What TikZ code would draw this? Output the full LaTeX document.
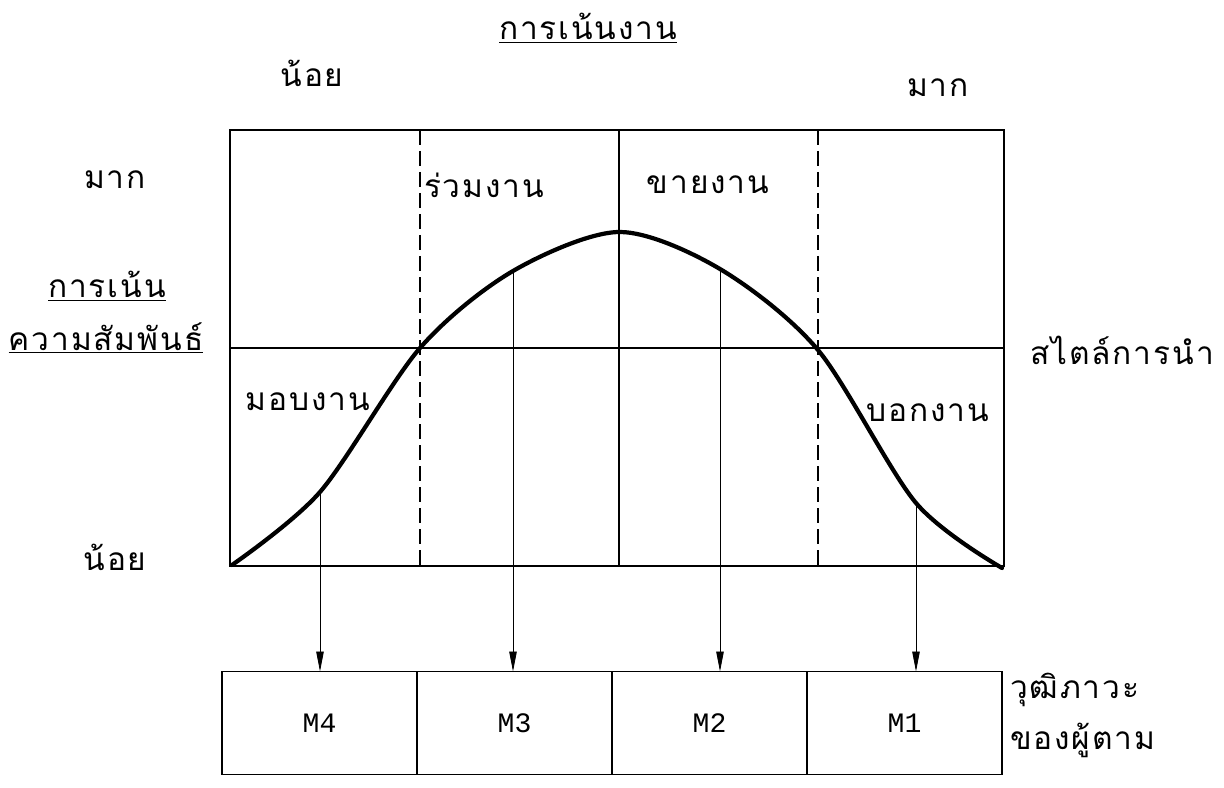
\documentclass[tikz,border=0pt]{standalone}
\usepackage{fontspec}
\newfontfamily\thaifont[Script=Thai, LetterSpace=6]{Loma}
\newfontfamily\mfont{Liberation Mono}
\usetikzlibrary{arrows.meta, positioning}
\tikzset{
  mainbox/.style={line width=1.1pt},
  divider/.style={line width=0.6pt},
  guide/.style={line width=0.6pt, dash pattern=on 3mm off 1.2mm},
  bellcurve/.style={line width=2.4pt, line join=round, line cap=round},
  arrow/.style={-{Triangle[length=4mm, width=1.5mm]}, line width=0.5pt},
  cell/.style={draw, line width=0.9pt, minimum width=39mm, minimum height=20.6mm, inner sep=0pt, outer sep=0pt, font=\mfont\fontsize{16}{18}\selectfont},
  thai/.style={font=\thaifont\fontsize{18}{22}\selectfont, inner sep=1pt}
}
\begin{document}
\begin{tikzpicture}[x=0.2mm, y=-0.2mm]
    \useasboundingbox (0,0) rectangle (1224,788);
    \coordinate (nw) at (230,130);
    \coordinate (se) at (1004,566);
    \coordinate (midw) at (230,348);
    \coordinate (mide) at (1004,348);
    \draw[mainbox] (nw) rectangle (se);
    \draw[mainbox] (midw) -- (mide);
    \draw[guide] (420,130) -- (420,566);
    \draw[divider] (619,130) -- (619,566);
    \draw[guide] (818,130) -- (818,566);
    \coordinate (p4) at (320,492);
    \coordinate (p3) at (513,271);
    \coordinate (p2) at (720,269);
    \coordinate (p1) at (916,503);
    \draw[bellcurve] plot[smooth, tension=0.5] coordinates {(232,565) (p4) (420,348) (p3) (619,232) (p2) (818,350) (p1) (1002,568)};
    \node[cell] (m4) at (319.5,723) {M4};
    \node[cell, right=0pt of m4] (m3) {M3};
    \node[cell, right=0pt of m3] (m2) {M2};
    \node[cell, right=0pt of m2] (m1) {M1};
    \draw[arrow] (p4) -- (p4 |- m4.north);
    \draw[arrow] (p3) -- (p3 |- m3.north);
    \draw[arrow] (p2) -- (p2 |- m2.north);
    \draw[arrow] (p1) -- (p1 |- m1.north);
    \node[thai] (title) at (588,28) {\underline{การเน้นงาน}};
    \node[thai] (lowtop) at (312,73) {น้อย};
    \node[thai] (hightop) at (938,88) {มาก};
    \node[thai] (highleft) at (115,180) {มาก};
    \node[thai] (rel1) at (107,286) {\underline{การเน้น}};
    \node[thai] (rel2) at (106,338) {\underline{ความสัมพันธ์}};
    \node[thai] (lowleft) at (115,557) {น้อย};
    \node[thai] (lead) at (1122,350) {สไตล์การนำ};
    \node[thai] (join) at (484,185) {ร่วมงาน};
    \node[thai] (sell) at (708,185) {ขายงาน};
    \node[thai] (deleg) at (308,402) {มอบงาน};
    \node[thai] (tell) at (928,413) {บอกงาน};
    \node[thai, anchor=west] (mat1) at (1008,690) {วุฒิภาวะ};
    \node[thai, anchor=west] (mat2) at (1008,740) {ของผู้ตาม};
\end{tikzpicture}
\end{document}
